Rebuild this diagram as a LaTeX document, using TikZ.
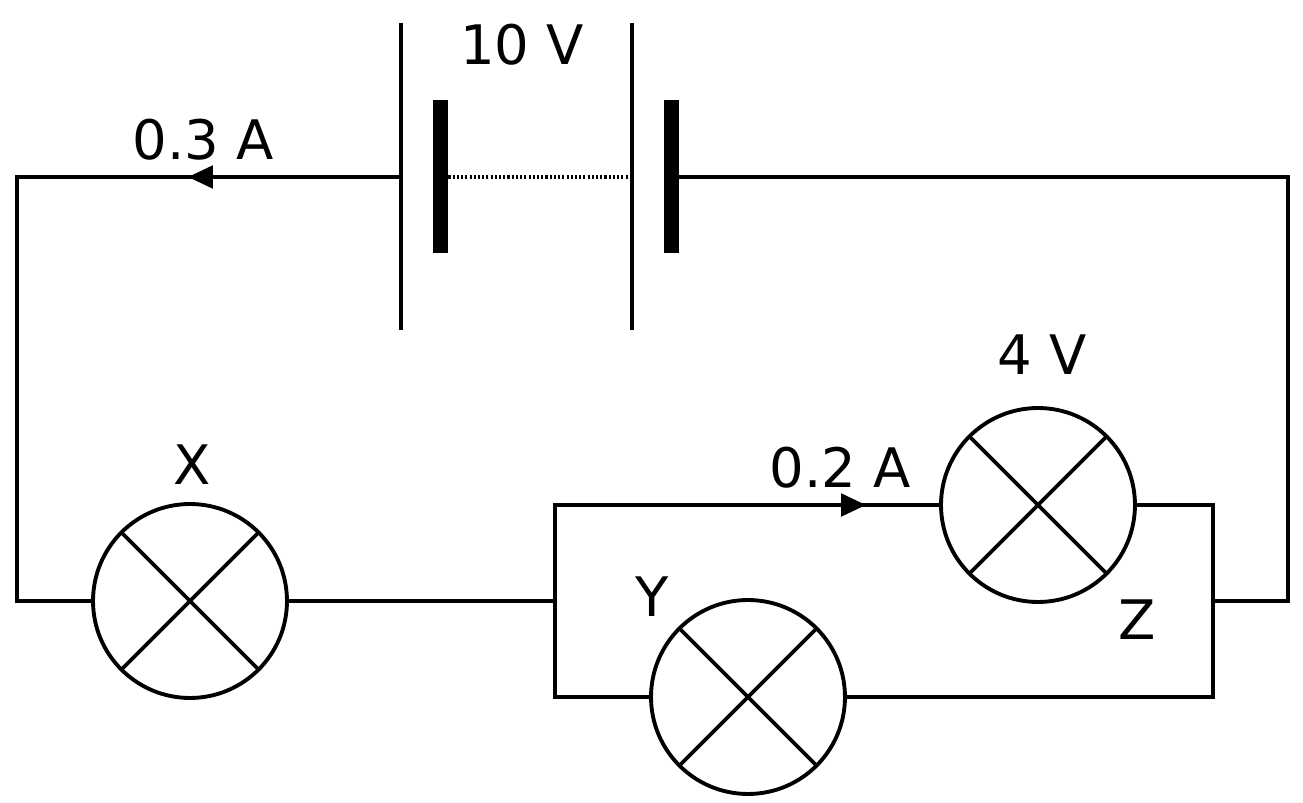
\documentclass[tikz,border=0pt]{standalone}
\usepackage{fontspec}
\setmainfont{DejaVu Sans}
\usetikzlibrary{arrows.meta}
\begin{document}
\begin{tikzpicture}[x=0.02cm,y=-0.02cm,line width=2.2pt,
    lamp/.style={circle,draw,minimum size=3.88cm,inner sep=0pt,
      path picture={\draw (path picture bounding box.north west)++(0.57cm,-0.57cm) -- ([xshift=-0.57cm,yshift=0.57cm]path picture bounding box.south east);
        \draw ([xshift=0.57cm,yshift=0.57cm]path picture bounding box.south west) -- ([xshift=-0.57cm,yshift=-0.57cm]path picture bounding box.north east);}},
    plate/.style={line width=0.3cm},
    lbl/.style={font=\fontsize{31}{37}\selectfont},
    flow/.style={-{Triangle[length=0.5cm,width=0.45cm]}}]
  \useasboundingbox (0,0) rectangle (1303,803);

  % Battery
  \coordinate (t1) at (401,23);  \coordinate (b1) at (401,330);
  \coordinate (t2) at (632,23);  \coordinate (b2) at (632,330);
  \coordinate (p1) at (440,100); \coordinate (q1) at (440,253);
  \coordinate (p2) at (671,100); \coordinate (q2) at (671,253);
  \draw (t1) -- (b1);
  \draw (t2) -- (b2);
  \draw[plate] (p1) -- (q1);
  \draw[plate] (p2) -- (q2);
  \draw[line width=2.2pt,dash pattern=on 1.2pt off 1.2pt] (440,177) -- (632,177);
  \node[lbl] (bat) at (522,45) {10 V};

  % Lamps
  \node[lamp] (lampX) at (190,601) {};
  \node[lamp] (lampZ) at (1038,505) {};
  \node[lamp] (lampY) at (748,697) {};
  \node[lbl] at (192,465) {X};
  \node[lbl] at (652,597) {Y};
  \node[lbl] at (1137,620) {Z};
  \node[lbl] at (1042,355) {4 V};

  % Wires
  \coordinate (tl) at (17,177);  \coordinate (tr) at (1288,177);
  \coordinate (bl) at (17,601);  \coordinate (br) at (1288,601);
  \coordinate (jl) at (555,601); \coordinate (jr) at (1213,601);
  \coordinate (ul) at (555,505); \coordinate (ur) at (1213,505);
  \coordinate (dl) at (555,697); \coordinate (dr) at (1213,697);
  \draw (401,177) -- (tl) -- (bl) -- (lampX);
  \draw (671,177) -- (tr) -- (br) -- (jr);
  \draw (lampX) -- (jl);
  \draw (lampZ) -- (ul) -- (dl) -- (lampY);
  \draw (lampZ) -- (ur) -- (dr) -- (lampY);

  % Currents
  \coordinate (a1) at (240,177); \coordinate (a2) at (188,177);
  \coordinate (c1) at (820,505); \coordinate (c2) at (866,505);
  \draw[flow] (a1) -- (a2);
  \draw[flow] (c1) -- (c2);
  \node[lbl] at (203,140) {0.3 A};
  \node[lbl] at (840,468) {0.2 A};
\end{tikzpicture}
\end{document}
